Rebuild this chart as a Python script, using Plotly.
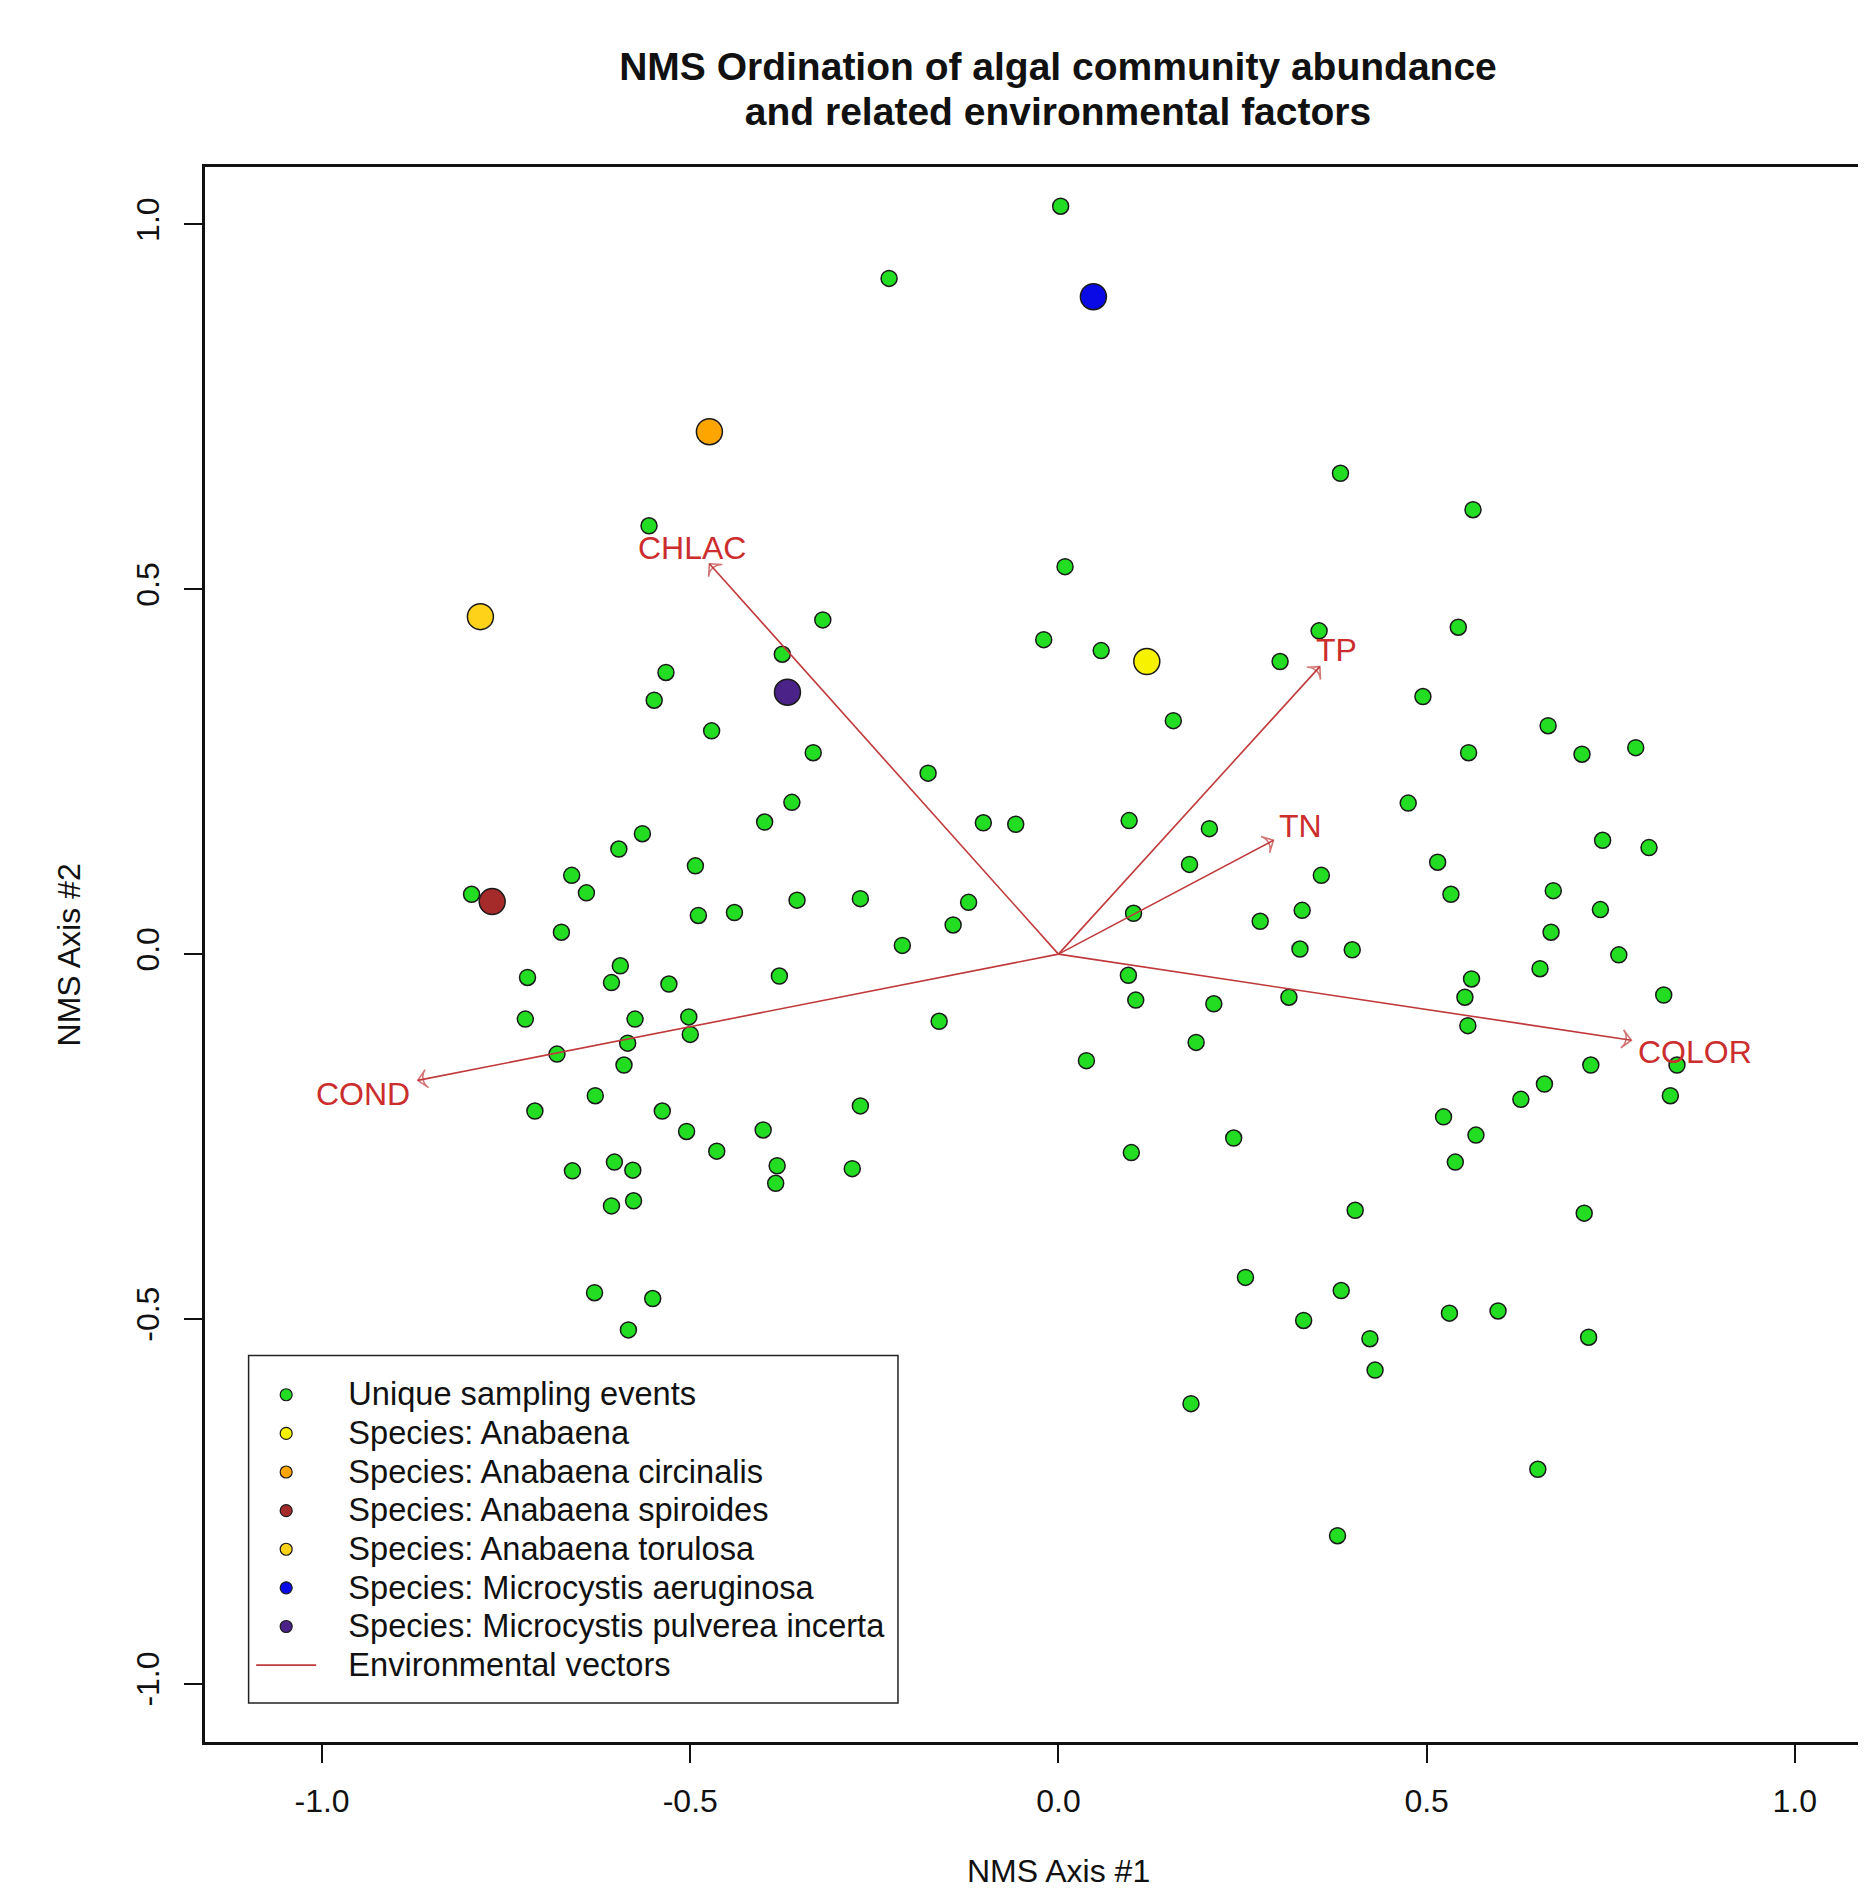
import plotly.graph_objects as go

# ---------------- data ----------------
site_x = [0.003, -0.230, 0.383, 0.563, -0.556, 0.009, -0.320, 0.354, 0.543, -0.020,
          0.058, 0.301, -0.375, -0.533, -0.549, 0.495, 0.156, -0.471, 0.665, 0.784,
          0.711, 0.557, -0.333, -0.177, -0.362, 0.475, -0.399, -0.102, -0.058, 0.096,
          0.205, -0.565, 0.739, 0.802, -0.597, 0.178, 0.515, -0.493, -0.661, 0.357,
          -0.641, 0.672, -0.797, 0.533, -0.355, -0.269, -0.122, 0.736, 0.331, -0.440,
          -0.489, 0.102, -0.675, 0.669, 0.274, -0.143, -0.212, 0.328, 0.399, 0.761,
          -0.595, 0.654, -0.721, -0.379, 0.095, -0.607, 0.561, -0.529, 0.105, 0.313,
          0.211, 0.552, 0.822, -0.502, -0.575, -0.724, -0.162, 0.556, -0.500, -0.585,
          0.187, -0.681, 0.038, -0.590, 0.723, 0.840, -0.629, 0.831, 0.628, 0.660,
          -0.711, -0.538, -0.269, 0.523, -0.505, -0.401, 0.238, 0.567, -0.464, 0.099,
          -0.603, 0.539, -0.660, -0.578, -0.382, -0.280, -0.384, -0.607, -0.577, 0.403,
          0.714, 0.254, -0.630, 0.384, -0.551, 0.597, 0.531, 0.333, -0.584, 0.423,
          0.720, 0.430, 0.180, 0.651, 0.379]
site_y = [1.025, 0.926, 0.659, 0.609, 0.587, 0.531, 0.458, 0.443, 0.448, 0.431,
          0.416, 0.401, 0.411, 0.386, 0.348, 0.353, 0.320, 0.306, 0.313, 0.283,
          0.274, 0.276, 0.276, 0.248, 0.208, 0.207, 0.181, 0.180, 0.178, 0.183,
          0.172, 0.165, 0.156, 0.146, 0.144, 0.123, 0.126, 0.121, 0.108, 0.108,
          0.084, 0.087, 0.082, 0.082, 0.074, 0.076, 0.071, 0.061, 0.060, 0.057,
          0.053, 0.056, 0.030, 0.030, 0.045, 0.040, 0.012, 0.007, 0.006, -0.001,
          -0.016, -0.020, -0.032, -0.030, -0.029, -0.039, -0.034, -0.041, -0.063, -0.059,
          -0.068, -0.059, -0.056, -0.086, -0.089, -0.089, -0.092, -0.098, -0.110, -0.122,
          -0.121, -0.137, -0.146, -0.152, -0.152, -0.152, -0.194, -0.194, -0.199, -0.178,
          -0.215, -0.215, -0.208, -0.223, -0.243, -0.241, -0.252, -0.248, -0.270, -0.272,
          -0.285, -0.285, -0.297, -0.296, -0.290, -0.294, -0.314, -0.345, -0.338, -0.351,
          -0.355, -0.443, -0.464, -0.461, -0.472, -0.489, -0.492, -0.502, -0.515, -0.527,
          -0.525, -0.570, -0.616, -0.706, -0.797]

species_names = ["Species: Anabaena", "Species: Anabaena circinalis",
                 "Species: Anabaena spiroides", "Species: Anabaena torulosa",
                 "Species: Microcystis aeruginosa", "Species: Microcystis pulverea incerta"]
species_x = [0.120, -0.474, -0.769, -0.785, 0.0475, -0.368]
species_y = [0.401, 0.716, 0.072, 0.4625, 0.901, 0.359]
species_colors = ["#f6f200", "#ffa500", "#a52a2a", "#ffd21a", "#0a0ae6", "#4b2388"]

vector_names = ["CHLAC", "TP", "TN", "COLOR", "COND"]
vector_x = [-0.474, 0.355, 0.292, 0.778, -0.870]
vector_y = [0.535, 0.394, 0.156, -0.118, -0.173]
vector_label_x = [-0.497, 0.378, 0.329, 0.864, -0.944]
vector_label_y = [0.556, 0.417, 0.175, -0.134, -0.191]

x_ticks = [-1.0, -0.5, 0.0, 0.5, 1.0]
x_tick_labels = ["-1.0", "-0.5", "0.0", "0.5", "1.0"]
y_ticks = [-1.0, -0.5, 0.0, 0.5, 1.0]
y_tick_labels = ["-1.0", "-0.5", "0.0", "0.5", "1.0"]

title_lines = ["NMS Ordination of algal community abundance",
               "and related environmental factors"]

# ---------------- styling ----------------
FONT = "Liberation Sans, Arial, sans-serif"
SITE_COLOR = "#22dd22"
VEC_LINE = "#c0393b"
VEC_TEXT = "#cc2d2d"
INK = "#111111"


def legend_label(txt):
    # larger glyphs than the legend row pitch, plus a little indent from the symbol
    return '<span style="font-size:32.6px">\u00a0\u00a0\u00a0' + txt + "</span>"


fig = go.Figure()

# sampling events
fig.add_trace(go.Scatter(
    x=site_x, y=site_y, mode="markers", showlegend=False,
    name="Unique sampling events",
    marker=dict(size=16, color=SITE_COLOR, line=dict(color="#1a1a1a", width=1.5)),
))

# species
for nm, sx, sy, col in zip(species_names, species_x, species_y, species_colors):
    fig.add_trace(go.Scatter(
        x=[sx], y=[sy], mode="markers", showlegend=False, name=nm,
        marker=dict(size=26, color=col, line=dict(color="#1a1a1a", width=1.5)),
    ))

# environmental vectors: shafts
vx, vy, vs = [], [], []
for tx, ty in zip(vector_x, vector_y):
    vx += [0.0, tx, None]
    vy += [0.0, ty, None]
    vs += [0, 13, 0]
fig.add_trace(go.Scatter(
    x=vx, y=vy, mode="lines", showlegend=False, name="Environmental vectors",
    line=dict(color=VEC_LINE, width=1.6),
))
# arrow heads, oriented along each shaft
fig.add_trace(go.Scatter(
    x=vx, y=vy, mode="markers", showlegend=False, hoverinfo="skip",
    marker=dict(symbol="arrow-wide-open", size=vs, angleref="previous",
                color=VEC_LINE, line=dict(color=VEC_LINE, width=1.6)),
))

# legend entries
fig.add_trace(go.Scatter(
    x=[None], y=[None], mode="markers", name=legend_label("Unique sampling events"),
    marker=dict(size=12, color=SITE_COLOR, line=dict(color="#1a1a1a", width=1.2)),
))
for nm, col in zip(species_names, species_colors):
    fig.add_trace(go.Scatter(
        x=[None], y=[None], mode="markers", name=legend_label(nm),
        marker=dict(size=12, color=col, line=dict(color="#1a1a1a", width=1.2)),
    ))
fig.add_trace(go.Scatter(
    x=[None], y=[None], mode="lines", name=legend_label("Environmental vectors"),
    line=dict(color=VEC_LINE, width=1.6),
))

# vector labels
annotations = []
for nm, lx, ly in zip(vector_names, vector_label_x, vector_label_y):
    annotations.append(dict(x=lx, y=ly, xref="x", yref="y", text=nm, showarrow=False,
                            font=dict(family=FONT, size=32, color=VEC_TEXT),
                            xanchor="center", yanchor="middle"))
# axis titles
annotations.append(dict(x=0.0, xref="x", y=-0.0819, yref="paper", text="NMS Axis #1",
                        showarrow=False, font=dict(family=FONT, size=32, color=INK),
                        xanchor="center", yanchor="middle"))
annotations.append(dict(x=-0.0819, xref="paper", y=0.5, yref="paper", text="NMS Axis #2",
                        textangle=-90, showarrow=False,
                        font=dict(family=FONT, size=32, color=INK),
                        xanchor="center", yanchor="middle"))

title_text = "<br>".join('<b><span style="font-size:39px">' + t + "</span></b>"
                         for t in title_lines)

W, H = 1858, 1884
fig.update_layout(
    width=W, height=H,
    margin=dict(l=197, r=0, t=159, b=150, autoexpand=False),
    paper_bgcolor="white", plot_bgcolor="white",
    font=dict(family=FONT, size=32, color=INK),
    title=dict(
        text=title_text,
        xref="container", x=1050 / W, xanchor="center",
        yref="container", y=1 - 72 / H, yanchor="top",
        font=dict(family=FONT, size=34.6, color=INK),
    ),
    xaxis=dict(
        range=[-1.159, 1.0967], showgrid=False, zeroline=False,
        showline=True, linecolor=INK, linewidth=2.5, mirror=True,
        ticks="outside", ticklen=18, tickwidth=1.5, tickcolor=INK,
        tickvals=x_ticks, ticktext=x_tick_labels, ticklabelstandoff=11,
        tickfont=dict(family=FONT, size=32, color=INK),
    ),
    yaxis=dict(
        range=[-1.0797, 1.0787], showgrid=False, zeroline=False,
        showline=True, linecolor=INK, linewidth=2.5, mirror=False,
        ticks="outside", ticklen=18, tickwidth=1.5, tickcolor=INK,
        tickvals=y_ticks, ticktext=y_tick_labels, tickangle=-90, ticklabelstandoff=12,
        tickfont=dict(family=FONT, size=32, color=INK),
    ),
    legend=dict(
        x=0.0278, y=0.2359, xanchor="left", yanchor="top",
        bgcolor="rgba(0,0,0,0)", borderwidth=0,
        font=dict(family=FONT, size=27.4, color=INK),
        itemwidth=60, itemsizing="trace",
    ),
    shapes=[dict(type="rect", xref="paper", yref="paper",
                 x0=0.02625, x1=0.4172, y0=0.0248, y1=0.2454,
                 line=dict(color="#222", width=1.5), fillcolor="white", layer="below")],
    annotations=annotations,
)

fig.write_html("out.html")
